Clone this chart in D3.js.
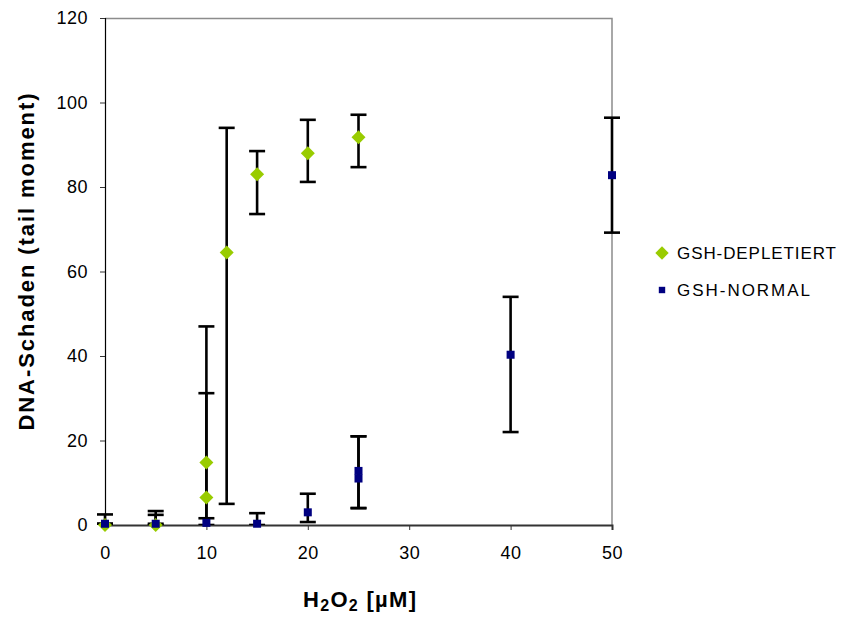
<!DOCTYPE html>
<html>
<head>
<meta charset="utf-8">
<script src="https://cdn.jsdelivr.net/npm/d3@7"></script>
<style>
  body { margin: 0; background: #fff; }
  text { font-family: 'Liberation Sans', Arial, sans-serif; }
  .tick text { font-size: 18px; fill: #000; letter-spacing: 0.5px; }
  .title { font-weight: bold; }
</style>
</head>
<body>
<svg id="chart" width="848" height="619"></svg>
<script>
// GSH-DEPLETIERT
const depX = [0, 5, 10, 10, 12, 15, 20, 25]
const depY = [0, 0, 14.8, 6.5, 64.5, 83, 88, 91.8]
const depHi = [2.5, 3.3, 47, 31.2, 94, 88.5, 95.9, 97.1]
const depLo = [0, 0, -20, -20, 5, 73.6, 81.2, 84.7]

// GSH-NORMAL
const normX = [0, 5, 10, 15, 20, 25, 25, 40, 50]
const normY = [0.3, 0.3, 0.5, 0.3, 3, 11, 12.8, 40.3, 82.8]
const normHi = [0.3, 2.4, 1.6, 2.8, 7.4, 21, 21, 54, 96.4]
const normLo = [0.3, 0.3, 0, 0, 0.7, 4, 4, 22, 69.2]

const xTicks = [0, 10, 20, 30, 40, 50]
const yTicks = [0, 20, 40, 60, 80, 100, 120]
const legendNames = ['GSH-DEPLETIERT', 'GSH-NORMAL']

const margin = { top: 18, left: 105, right: 236, bottom: 94 }
const svg = d3.select('#chart')
const width = 848 - margin.left - margin.right
const height = 619 - margin.top - margin.bottom
const g = svg.append('g').attr('transform', `translate(${margin.left}, ${margin.top})`)

const x = d3.scaleLinear().domain([0, 50]).range([0, width])
const y = d3.scaleLinear().domain([0, 120]).range([height, 0])

svg.append('defs').append('clipPath').attr('id', 'clip')
  .append('rect').attr('x', -20).attr('y', 0).attr('width', width + 40).attr('height', height)

// rahmen oben/rechts
g.append('path')
  .attr('d', `M0,0.5H${width}V${height}`)
  .attr('fill', 'none')
  .attr('stroke', '#8c8c8c')
  .attr('stroke-width', 1.5)

const xAxis = d3.axisBottom(x).tickValues(xTicks).tickSize(5).tickPadding(16)
g.append('g')
  .attr('transform', `translate(0, ${height})`)
  .call(xAxis)
  .call(a => a.select('.domain').attr('stroke', '#333').attr('stroke-width', 2))
  .call(a => a.selectAll('.tick line').attr('stroke', '#333'))

const yAxis = d3.axisLeft(y).tickValues(yTicks).tickSize(5).tickPadding(12)
g.append('g')
  .call(yAxis)
  .call(a => a.select('.domain').attr('stroke', '#000').attr('stroke-width', 1.2))
  .call(a => a.selectAll('.tick line').attr('stroke', '#333'))

const series = [
  { xs: depX, ys: depY, hi: depHi, lo: depLo, color: '#99cc00', shape: 'diamond' },
  { xs: normX, ys: normY, hi: normHi, lo: normLo, color: '#000080', shape: 'square' }
]

const bars = g.append('g').attr('clip-path', 'url(#clip)')
const cap = 8
series.forEach(s => {
  s.xs.forEach((xv, i) => {
    const px = x(xv)
    const eb = bars.append('g').attr('stroke', '#000').attr('stroke-width', 2.6)
    eb.append('line').attr('x1', px).attr('x2', px).attr('y1', y(s.hi[i])).attr('y2', y(s.lo[i]))
    eb.append('line').attr('x1', px - cap).attr('x2', px + cap).attr('y1', y(s.hi[i])).attr('y2', y(s.hi[i]))
    eb.append('line').attr('x1', px - cap).attr('x2', px + cap).attr('y1', y(s.lo[i])).attr('y2', y(s.lo[i]))
  })
})

function marker (sel, shape, color, big) {
  if (shape === 'diamond') {
    const r = big ? 7 : 6.7
    sel.append('path').attr('d', `M0,${-r}L${r},0L0,${r}L${-r},0Z`).attr('fill', color)
  } else {
    const h = big ? 4 : 3.2
    sel.append('rect').attr('x', -h).attr('y', -h).attr('width', 2 * h).attr('height', 2 * h).attr('fill', color)
  }
}

series.forEach(s => {
  s.xs.forEach((xv, i) => {
    const m = g.append('g').attr('transform', `translate(${x(xv)}, ${y(s.ys[i])})`)
    marker(m, s.shape, s.color, true)
  })
})

// achsentitel
svg.append('text')
  .attr('class', 'title')
  .attr('font-size', 22)
  .attr('text-anchor', 'middle')
  .attr('transform', 'translate(34, 262) rotate(-90)')
  .attr('textLength', 337)
  .attr('lengthAdjust', 'spacing')
  .text('DNA-Schaden  (tail moment)')

const xt = svg.append('text')
  .attr('class', 'title')
  .attr('font-size', 22)
  .attr('x', 303)
  .attr('y', 607)
  .attr('textLength', 113)
  .attr('lengthAdjust', 'spacing')
xt.append('tspan').text('H')
xt.append('tspan').attr('font-size', 16).attr('dy', 4).text('2')
xt.append('tspan').attr('dy', -4).text('O')
xt.append('tspan').attr('font-size', 16).attr('dy', 4).text('2')
xt.append('tspan').attr('dy', -4).text(' [µM]')

// legende
const legendLen = [159, 133]
legendNames.forEach((name, i) => {
  const ly = 253 + i * 37
  const m = svg.append('g').attr('transform', `translate(662, ${ly})`)
  marker(m, series[i].shape, series[i].color, false)
  svg.append('text')
    .attr('x', 677)
    .attr('y', ly + 6)
    .attr('font-size', 17)
    .attr('textLength', legendLen[i])
    .attr('lengthAdjust', 'spacing')
    .text(name)
})
</script>
</body>
</html>
